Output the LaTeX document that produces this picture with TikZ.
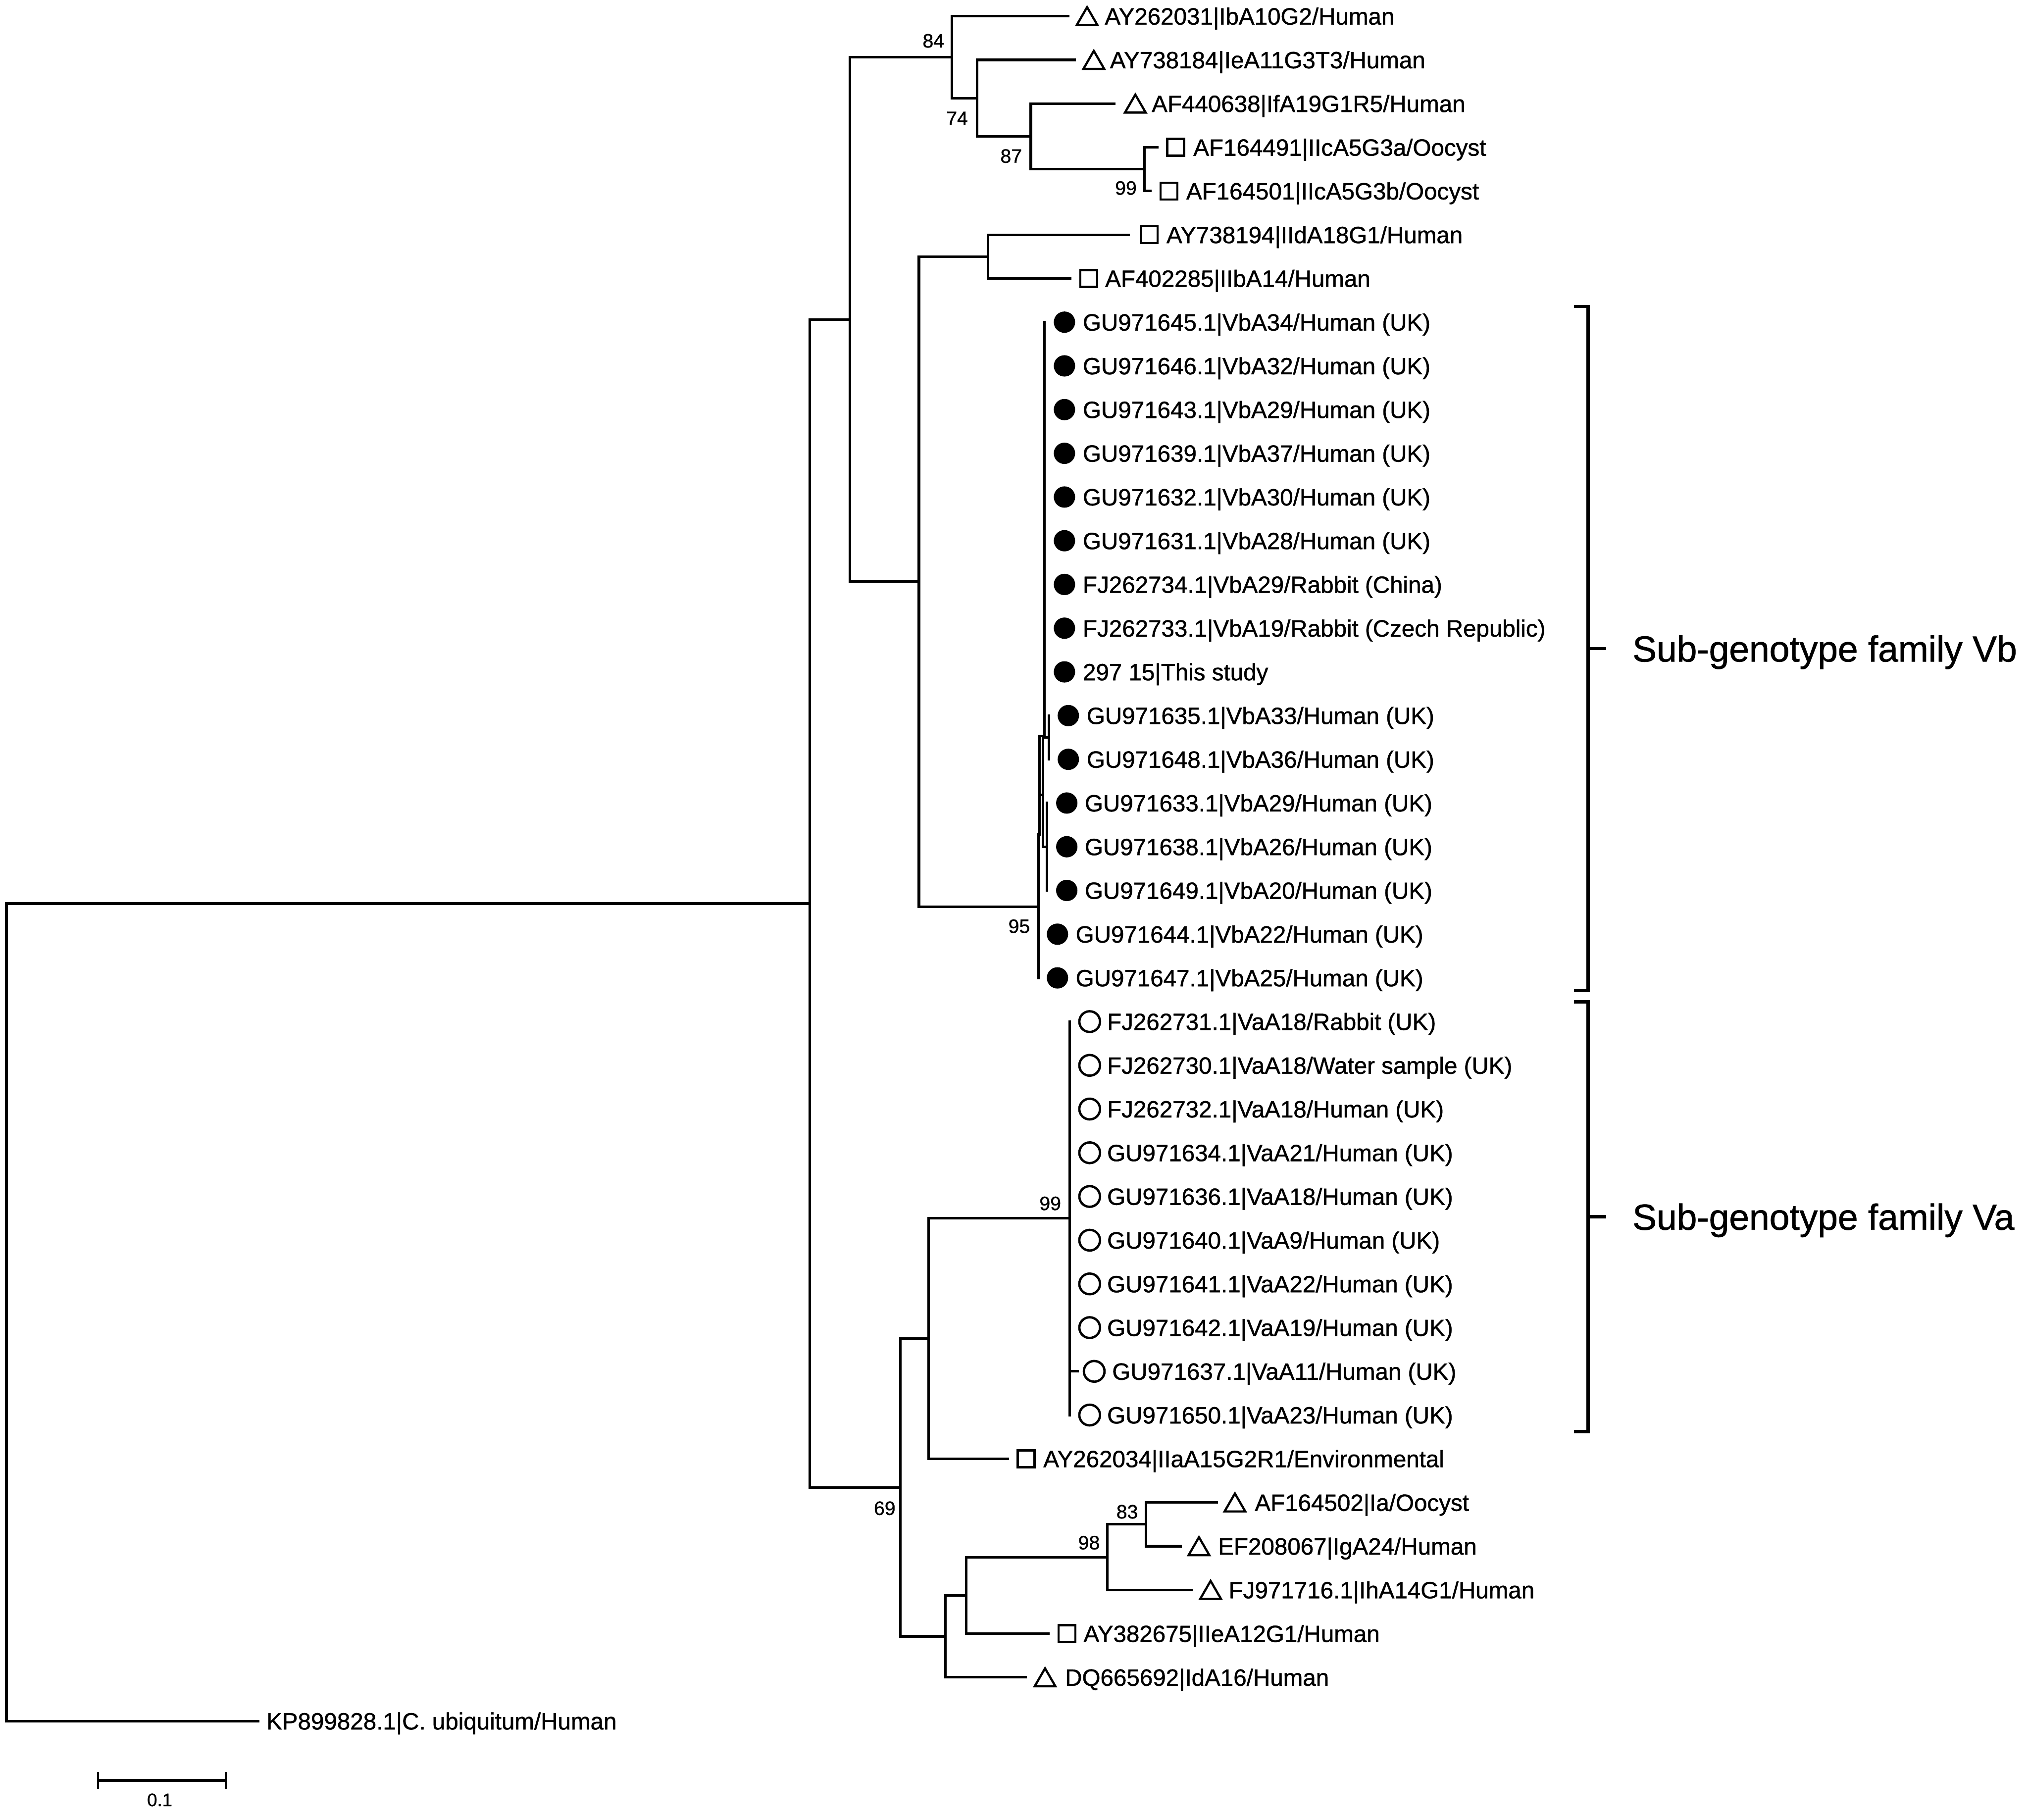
\documentclass[tikz,border=0pt]{standalone}
\usepackage{fontspec}
\setmainfont{Liberation Sans}
\newfontfamily\labfont{Liberation Sans}[FakeBold=1]
\usetikzlibrary{shapes.geometric}
\newcommand{\myleaf}[8]{%
  \coordinate (e#1) at (#4,#3);
  \draw[br] (#2) |- (e#1);
  \node[#5] (m#1) at (#6,#3) {};
  \node[lab] (t#1) at (#7,#3) {#8};
}
\begin{document}
\begin{tikzpicture}[x=1pt,y=-1pt,
  br/.style={line width=2pt,line join=miter,line cap=rect},
  lab/.style={font=\labfont\fontsize{18.2}{20}\selectfont,anchor=west,inner sep=0pt,text height=13pt,text depth=0pt},
  boot/.style={font=\labfont\fontsize{15}{17}\selectfont,inner sep=0pt,text height=10.7pt,text depth=0pt},
  fam/.style={font=\labfont\fontsize{28}{30}\selectfont,anchor=west,inner sep=0pt,text height=20pt,text depth=0pt},
  tri/.style={regular polygon,regular polygon sides=3,minimum size=18.5pt,inner sep=0pt,draw,line width=1.7pt,yshift=-2.3pt},
  sq/.style={rectangle,minimum size=13pt,inner sep=0pt,draw,line width=1.7pt},
  vb/.style={circle,minimum size=16.5pt,inner sep=0pt,fill=black},
  va/.style={circle,minimum size=16pt,inner sep=0pt,draw,line width=1.8pt},
  brk/.style={line width=2.6pt,line join=miter}]
\useasboundingbox (0,0) rectangle (1568,1407);

% internal nodes
\coordinate (n5) at (5,1014.6);
\coordinate (n626) at (626,698.6);
\coordinate (n657) at (657,247);
\coordinate (n736) at (736,44.2);
\coordinate (n755) at (755.5,75.9);
\coordinate (n797) at (797,105.45);
\coordinate (n885) at (885,130.8);
\coordinate (n710) at (710.5,449.7);
\coordinate (n764) at (764,198.4);
\coordinate (nA) at (803,701);
\coordinate (nB) at (803.6,645);
\coordinate (nC) at (807.5,569);
\coordinate (nD) at (806.5,614.5);
\coordinate (nE) at (811,570.2);
\coordinate (nF) at (809.5,654.7);
\coordinate (n696) at (696,1150.1);
\coordinate (n718) at (718,1035);
\coordinate (nVa) at (827,942);
\coordinate (n731) at (731,1265.2);
\coordinate (n747) at (747,1233.5);
\coordinate (n856) at (856,1204);
\coordinate (n886) at (886,1178.6);

% internal branches
\draw[br] (n5) |- (n626);
\draw[br] (n626) |- (n657);
\draw[br] (n626) |- (n696);
\draw[br] (n657) |- (n736);
\draw[br] (n657) |- (n710);
\draw[br] (n736) |- (n755);
\draw[br] (n755) |- (n797);
\draw[br] (n797) |- (n885);
\draw[br] (n710) |- (n764);
\draw[br] (n710) |- (nA);
\draw[br] (nA) |- (nB);
\draw[br] (nB) |- (nC);
\draw[br] (nB) |- (nD);
\draw[br] (nD) |- (nE);
\draw[br] (nD) |- (nF);
\draw[br] (n696) |- (n718);
\draw[br] (n696) |- (n731);
\draw[br] (n718) |- (nVa);
\draw[br] (n731) |- (n747);
\draw[br] (n747) |- (n856);
\draw[br] (n856) |- (n886);

% leaves
\myleaf{1}{n736}{12.5}{826}{tri}{840.5}{854}{AY262031|IbA10G2/Human}
\myleaf{2}{n755}{46.3}{831}{tri}{845.7}{858}{AY738184|IeA11G3T3/Human}
\myleaf{3}{n797}{80.1}{861.6}{tri}{877.8}{890.3}{AF440638|IfA19G1R5/Human}
\myleaf{4}{n885}{113.9}{894.6}{sq}{909}{922.5}{AF164491|IIcA5G3a/Oocyst}
\myleaf{5}{n885}{147.7}{889.5}{sq}{903.8}{917}{AF164501|IIcA5G3b/Oocyst}
\myleaf{6}{n764}{181.5}{872.4}{sq}{888.5}{901.7}{AY738194|IIdA18G1/Human}
\myleaf{7}{n764}{215.3}{827.4}{sq}{841.8}{854.3}{AF402285|IIbA14/Human}
\myleaf{8}{nC}{249.1}{807.5}{vb}{823}{837}{GU971645.1|VbA34/Human (UK)}
\myleaf{9}{nC}{282.9}{807.5}{vb}{823}{837}{GU971646.1|VbA32/Human (UK)}
\myleaf{10}{nC}{316.7}{807.5}{vb}{823}{837}{GU971643.1|VbA29/Human (UK)}
\myleaf{11}{nC}{350.5}{807.5}{vb}{823}{837}{GU971639.1|VbA37/Human (UK)}
\myleaf{12}{nC}{384.3}{807.5}{vb}{823}{837}{GU971632.1|VbA30/Human (UK)}
\myleaf{13}{nC}{418.1}{807.5}{vb}{823}{837}{GU971631.1|VbA28/Human (UK)}
\myleaf{14}{nC}{451.9}{807.5}{vb}{823}{837}{FJ262734.1|VbA29/Rabbit (China)}
\myleaf{15}{nC}{485.7}{807.5}{vb}{823}{837}{FJ262733.1|VbA19/Rabbit (Czech Republic)}
\myleaf{16}{nC}{519.5}{807.5}{vb}{823}{837}{297 15|This study}
\myleaf{17}{nE}{553.3}{811}{vb}{826}{840}{GU971635.1|VbA33/Human (UK)}
\myleaf{18}{nE}{587.1}{811}{vb}{826}{840}{GU971648.1|VbA36/Human (UK)}
\myleaf{19}{nF}{620.9}{809.5}{vb}{824.8}{838.5}{GU971633.1|VbA29/Human (UK)}
\myleaf{20}{nF}{654.7}{809.5}{vb}{824.8}{838.5}{GU971638.1|VbA26/Human (UK)}
\myleaf{21}{nF}{688.5}{809.5}{vb}{824.8}{838.5}{GU971649.1|VbA20/Human (UK)}
\myleaf{22}{nA}{722.3}{803}{vb}{817.6}{831.5}{GU971644.1|VbA22/Human (UK)}
\myleaf{23}{nA}{756.1}{803}{vb}{817.6}{831.5}{GU971647.1|VbA25/Human (UK)}
\myleaf{24}{nVa}{789.9}{827}{va}{842.5}{855.8}{FJ262731.1|VaA18/Rabbit (UK)}
\myleaf{25}{nVa}{823.7}{827}{va}{842.5}{855.8}{FJ262730.1|VaA18/Water sample (UK)}
\myleaf{26}{nVa}{857.5}{827}{va}{842.5}{855.8}{FJ262732.1|VaA18/Human (UK)}
\myleaf{27}{nVa}{891.3}{827}{va}{842.5}{855.8}{GU971634.1|VaA21/Human (UK)}
\myleaf{28}{nVa}{925.1}{827}{va}{842.5}{855.8}{GU971636.1|VaA18/Human (UK)}
\myleaf{29}{nVa}{958.9}{827}{va}{842.5}{855.8}{GU971640.1|VaA9/Human (UK)}
\myleaf{30}{nVa}{992.7}{827}{va}{842.5}{855.8}{GU971641.1|VaA22/Human (UK)}
\myleaf{31}{nVa}{1026.5}{827}{va}{842.5}{855.8}{GU971642.1|VaA19/Human (UK)}
\myleaf{32}{nVa}{1060.3}{833}{va}{846}{859.7}{GU971637.1|VaA11/Human (UK)}
\myleaf{33}{nVa}{1094.1}{827}{va}{842.5}{855.8}{GU971650.1|VaA23/Human (UK)}
\myleaf{34}{n718}{1127.9}{779.3}{sq}{793.3}{806.5}{AY262034|IIaA15G2R1/Environmental}
\myleaf{35}{n886}{1161.7}{940.8}{tri}{954.8}{970}{AF164502|Ia/Oocyst}
\myleaf{36}{n886}{1195.5}{912.8}{tri}{927}{941.6}{EF208067|IgA24/Human}
\myleaf{37}{n856}{1229.3}{921.3}{tri}{936}{949.8}{FJ971716.1|IhA14G1/Human}
\myleaf{38}{n747}{1263.1}{810.4}{sq}{825}{837.6}{AY382675|IIeA12G1/Human}
\myleaf{39}{n731}{1296.9}{793}{tri}{808}{823.3}{DQ665692|IdA16/Human}
\coordinate (e40) at (199.6,1330.7);
\draw[br] (n5) |- (e40);
\node[lab] (t40) at (205.8,1330.7) {KP899828.1|C. ubiquitum/Human};

% bootstrap values
\node[boot] (b84) at (721.7,31.4) {84};
\node[boot] (b74) at (740,91.3) {74};
\node[boot] (b87) at (781.8,120.5) {87};
\node[boot] (b99a) at (870.5,145.2) {99};
\node[boot] (b95) at (788,716) {95};
\node[boot] (b99b) at (812,930.3) {99};
\node[boot] (b69) at (684,1166) {69};
\node[boot] (b83) at (871.5,1168.7) {83};
\node[boot] (b98) at (842,1192.6) {98};

% brackets
\coordinate (vbt) at (1228,237);
\coordinate (vbb) at (1228,766);
\coordinate (vbm) at (1228,501.5);
\coordinate (vat) at (1228,774.6);
\coordinate (vab) at (1228,1107);
\coordinate (vam) at (1228,940.8);
\draw[brk] ([xshift=-11pt]vbt) -- (vbt) -- (vbb) -- ([xshift=-11pt]vbb);
\draw[brk] (vbm) -- ++(14,0);
\draw[brk] ([xshift=-11pt]vat) -- (vat) -- (vab) -- ([xshift=-11pt]vab);
\draw[brk] (vam) -- ++(14,0);
\node[fam] (fvb) at (1262,501.5) {Sub-genotype family Vb};
\node[fam] (fva) at (1262,940.8) {Sub-genotype family Va};

% scale bar
\coordinate (s1) at (75.7,1376.7);
\coordinate (s2) at (174.5,1376.7);
\draw[line width=2.4pt] (s1) -- (s2);
\draw[line width=1.7pt] ([yshift=6.5pt]s1) -- ([yshift=-6.5pt]s1);
\draw[line width=1.7pt] ([yshift=6.5pt]s2) -- ([yshift=-6.5pt]s2);
\node[font=\labfont\fontsize{14}{16}\selectfont,inner sep=0pt,text height=10pt,text depth=0pt] (s01) at (123.5,1391.5) {0.1};
\end{tikzpicture}
\end{document}
